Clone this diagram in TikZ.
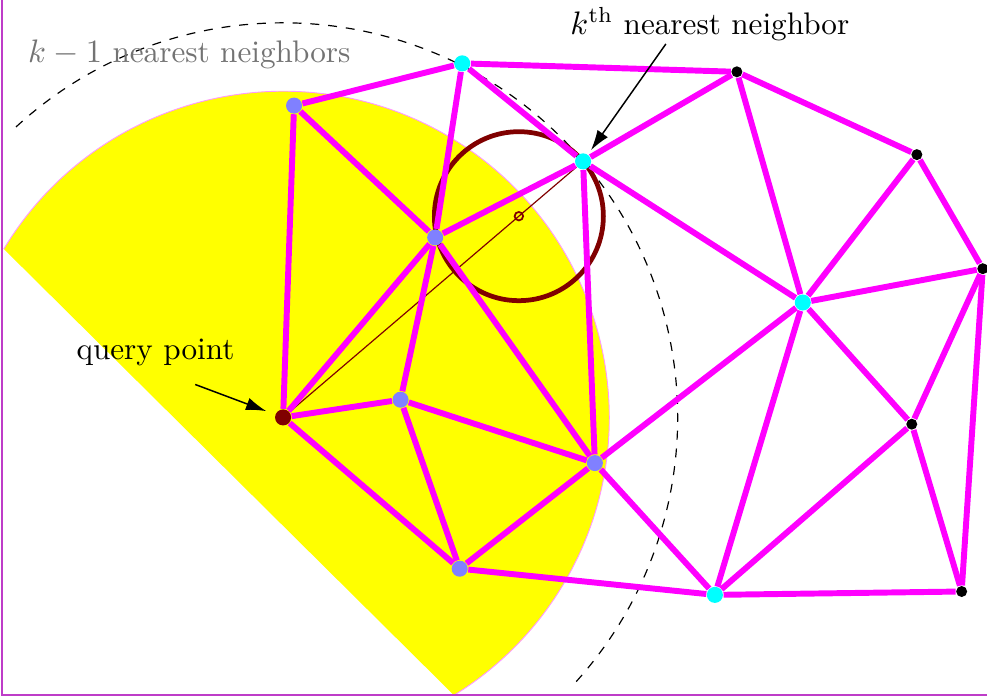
\documentclass[tikz,border=0pt]{standalone}
\usepackage{amsmath}
\usetikzlibrary{arrows.meta, calc, backgrounds}
\definecolor{framecol}{RGB}{190,60,200}
\definecolor{dmag}{RGB}{255,0,255}
\definecolor{dcyan}{RGB}{0,255,255}
\definecolor{dyellow}{RGB}{255,255,0}
\definecolor{dnbr}{RGB}{128,128,255}
\definecolor{dmaroon}{RGB}{128,0,0}
\tikzset{
  site/.style   ={circle, inner sep=0pt, minimum size=1.9mm},
  qpt/.style    ={site, fill=dmaroon},
  nbrpt/.style  ={site, fill=dnbr},
  ringpt/.style ={site, fill=dcyan},
  farpt/.style  ={circle, inner sep=0pt, minimum size=1.3mm, fill=black},
  dedge/.style  ={dmag, line width=2pt},
  ptr/.style    ={-{Latex[length=2.4mm, width=1.5mm]}, line width=0.5pt},
  ball/.style   ={dmaroon, line width=1.6pt},
  rim/.style    ={dmag!40, line width=0.3pt},
  lbl/.style    ={font=\fontsize{10.5pt}{13pt}\selectfont},
}

\begin{document}
\begin{tikzpicture}
  \useasboundingbox (0,0) rectangle (11.68,8.26);
  \draw[framecol, line width=0.5pt] (0.025,8.4) |- (11.8,0.035);

  % sites
  \node[qpt]    (q)  at (3.35,3.32) {};
  \node[nbrpt]  (n1) at (3.48,7.01) {};
  \node[nbrpt]  (n2) at (5.15,5.45) {};
  \node[nbrpt]  (n3) at (4.74,3.53) {};
  \node[nbrpt]  (n4) at (7.04,2.78) {};
  \node[nbrpt]  (n5) at (5.44,1.53) {};
  \node[ringpt] (c1) at (5.47,7.51) {};
  \node[ringpt] (c2) at (6.90,6.35) {};
  \node[ringpt] (c3) at (9.50,4.68) {};
  \node[ringpt] (c4) at (8.46,1.22) {};
  \node[farpt]  (o1) at (8.72,7.41) {};
  \node[farpt]  (o2) at (10.85,6.43) {};
  \node[farpt]  (o3) at (11.63,5.08) {};
  \node[farpt]  (o4) at (10.79,3.24) {};
  \node[farpt]  (o5) at (11.38,1.26) {};
  \node[draw=dmaroon, circle, inner sep=0pt, minimum size=1mm, line width=0.6pt]
    (m) at ($(q)!0.786!(c2)$) {};

  \begin{scope}[on background layer]
    \fill[dyellow] (q) ++(148.9:3.86) arc[start angle=148.9, end angle=-58.4, radius=3.86] -- cycle;
    \draw[rim] (q) ++(148.9:3.86) arc[start angle=148.9, end angle=-58.4, radius=3.86];
    \draw[dashed, line width=0.4pt] (q) ++(132.6:4.67) arc[start angle=132.6, end angle=-42.4, radius=4.67];
    \draw[dmaroon, line width=0.4pt] (q) -- (c2);
    \draw[ball] (m) circle[radius=1cm];
    \foreach \a/\b in {n1/c1, c1/o1, n1/n2, n1/q, c1/n2, c1/c2, c2/o1, n2/c2, c2/n4,
                       c2/c3, o1/c3, o1/o2, o2/c3, o2/o3, o3/c3, o3/o4, o3/o5, c3/o4,
                       c3/c4, c3/n4, o4/c4, o4/o5, c4/o5, c4/n4, n5/c4, n4/n5, n3/n5,
                       n3/n4, q/n3, q/n2, q/n5, n2/n3, n2/n4}
      \draw[dedge] (\a) -- (\b);
  \end{scope}

  % labels
  \node[lbl, text=black!55] (kmin) at (2.24,7.61) {$k-1$ nearest neighbors};
  \node[lbl] (kth)  at (8.40,7.97) {$k^{\text{th}}$ nearest neighbor};
  \node[lbl] (qlbl) at (1.84,4.09) {query point};
  \coordinate (ktail) at (7.88,7.74);
  \coordinate (qtail) at (2.31,3.71);
  \draw[ptr, shorten >=0.6mm] (ktail) -- (c2);
  \draw[ptr, shorten >=1.1mm] (qtail) -- (q);
\end{tikzpicture}
\end{document}
